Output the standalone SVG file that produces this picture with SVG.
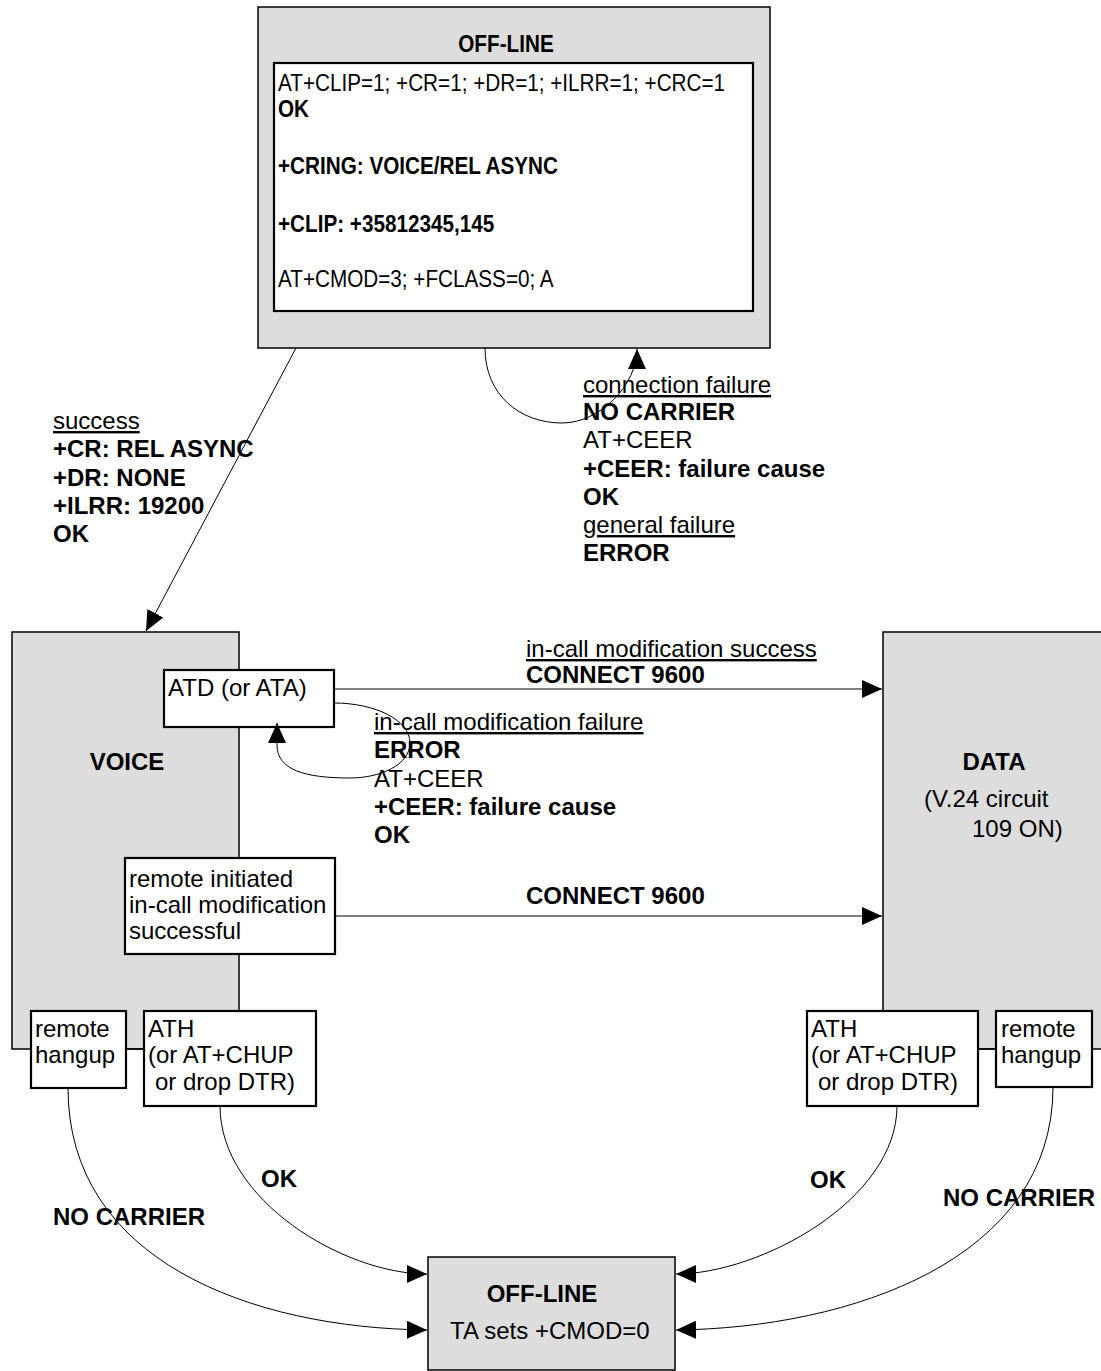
<svg xmlns="http://www.w3.org/2000/svg" width="1101" height="1371" viewBox="0 0 1101 1371">
  <style>
    text { font-family: "Liberation Sans", Arial, sans-serif; font-size: 24px; fill: #000; }
    .small { font-size: 23px; }
    .b { font-weight: bold; }
    .u { text-decoration: underline; }
    .mid { text-anchor: middle; }
    .state { fill: #dddddd; stroke: #000; stroke-width: 1.5; }
    .sub { fill: #fff; stroke: #000; stroke-width: 2.2; }
    .wire { fill: none; stroke: #000; stroke-width: 1; }
    .link { stroke: #000; stroke-width: 1.5; }
  </style>
  <defs>
    <marker id="arrow" markerUnits="userSpaceOnUse" viewBox="0 0 20 18" markerWidth="20" markerHeight="18" refX="20" refY="9" orient="auto">
      <path d="M0,0 L20,9 L0,18 z" fill="#000"/>
    </marker>
  </defs>

  <rect width="1101" height="1371" fill="#fff"/>

  <!-- initial off-line state with its command sequence (narrowed type) -->
  <g id="offline-top">
    <rect class="state" x="258" y="7" width="512" height="341"/>
    <g transform="translate(506,0) scale(0.9,1) translate(-506,0)">
      <text class="small b mid" x="506" y="52">OFF-LINE</text>
    </g>
    <rect class="sub" x="274" y="63" width="479" height="248"/>
    <g transform="translate(278,0) scale(0.9,1) translate(-278,0)">
      <text class="small" x="278" y="91">AT+CLIP=1; +CR=1; +DR=1; +ILRR=1; +CRC=1</text>
      <text class="small b" x="278" y="117">OK</text>
      <text class="small b" x="278" y="174">+CRING: VOICE/REL ASYNC</text>
      <text class="small b" x="278" y="232">+CLIP: +35812345,145</text>
      <text class="small" x="278" y="287">AT+CMOD=3; +FCLASS=0; A</text>
    </g>
  </g>

  <!-- voice state -->
  <g id="voice">
    <rect class="state" x="12" y="632" width="227" height="417"/>
    <text class="b mid" x="127" y="770">VOICE</text>
  </g>
  <g id="voice-atd">
    <rect class="sub" x="164" y="670" width="170" height="57"/>
    <text x="168" y="696">ATD (or ATA)</text>
  </g>
  <g id="voice-remote-modify">
    <rect class="sub" x="125" y="858" width="210" height="96"/>
    <text x="129" y="887">remote initiated</text>
    <text x="129" y="913">in-call modification</text>
    <text x="129" y="939">successful</text>
  </g>
  <g id="voice-remote-hangup">
    <line class="link" x1="126" y1="1049" x2="144" y2="1049"/>
    <rect class="sub" x="31" y="1011" width="95" height="77"/>
    <text x="35" y="1037">remote</text>
    <text x="35" y="1063">hangup</text>
  </g>
  <g id="voice-ath">
    <rect class="sub" x="144" y="1011" width="172" height="95"/>
    <text x="148" y="1037">ATH</text>
    <text x="148" y="1063">(or AT+CHUP</text>
    <text x="155" y="1090">or drop DTR)</text>
  </g>

  <!-- data state -->
  <g id="data">
    <rect class="state" x="883" y="632" width="230" height="417"/>
    <text class="b mid" x="994" y="770">DATA</text>
    <text x="924" y="807">(V.24 circuit</text>
    <text x="972" y="837">109 ON)</text>
  </g>
  <g id="data-ath">
    <line class="link" x1="978" y1="1049" x2="996" y2="1049"/>
    <rect class="sub" x="807" y="1011" width="171" height="95"/>
    <text x="811" y="1037">ATH</text>
    <text x="811" y="1063">(or AT+CHUP</text>
    <text x="818" y="1090">or drop DTR)</text>
  </g>
  <g id="data-remote-hangup">
    <rect class="sub" x="996" y="1011" width="96" height="76"/>
    <text x="1001" y="1037">remote</text>
    <text x="1001" y="1063">hangup</text>
  </g>

  <!-- final off-line state -->
  <g id="offline-bottom">
    <rect class="state" x="428" y="1257" width="247" height="113"/>
    <text class="b mid" x="542" y="1302">OFF-LINE</text>
    <text x="450" y="1339">TA sets +CMOD=0</text>
  </g>

  <!-- transitions -->
  <g id="connectors" class="wire">
    <line x1="296" y1="348" x2="146" y2="631" marker-end="url(#arrow)"/>
    <path d="M485,348 C485,395 520,423 562,423 C600,423 637,385 637,349" marker-end="url(#arrow)"/>
    <line x1="334" y1="689" x2="882" y2="689" marker-end="url(#arrow)"/>
    <path d="M334,703 C375,703 410,720 410,743 C410,765 380,778 350,778 C305,778 277,770 277,745 L277,723" marker-end="url(#arrow)"/>
    <line x1="335" y1="916" x2="882" y2="916" marker-end="url(#arrow)"/>
    <path d="M68,1088 C68,1260 250,1328 427,1330" marker-end="url(#arrow)"/>
    <path d="M220,1106 C220,1200 344,1274 427,1274" marker-end="url(#arrow)"/>
    <path d="M897,1106 C897,1200 760,1274 676,1274" marker-end="url(#arrow)"/>
    <path d="M1053,1087 C1053,1260 850,1328 676,1330" marker-end="url(#arrow)"/>
  </g>

  <!-- transition labels -->
  <g id="labels">
    <text class="u" x="53" y="429">success</text>
    <text class="b" x="53" y="457">+CR: REL ASYNC</text>
    <text class="b" x="53" y="486">+DR: NONE</text>
    <text class="b" x="53" y="514">+ILRR: 19200</text>
    <text class="b" x="53" y="542">OK</text>

    <text class="u" x="583" y="393">connection failure</text>
    <text class="b" x="583" y="420">NO CARRIER</text>
    <text x="583" y="448">AT+CEER</text>
    <text class="b" x="583" y="477">+CEER: failure cause</text>
    <text class="b" x="583" y="505">OK</text>
    <text class="u" x="583" y="533">general failure</text>
    <text class="b" x="583" y="561">ERROR</text>

    <text class="u" x="526" y="657">in-call modification success</text>
    <text class="b" x="526" y="683">CONNECT 9600</text>

    <text class="u" x="374" y="730">in-call modification failure</text>
    <text class="b" x="374" y="758">ERROR</text>
    <text x="374" y="787">AT+CEER</text>
    <text class="b" x="374" y="815">+CEER: failure cause</text>
    <text class="b" x="374" y="843">OK</text>

    <text class="b" x="526" y="904">CONNECT 9600</text>

    <text class="b" x="261" y="1187">OK</text>
    <text class="b" x="53" y="1225">NO CARRIER</text>
    <text class="b" x="810" y="1188">OK</text>
    <text class="b" x="943" y="1206">NO CARRIER</text>
  </g>
</svg>
